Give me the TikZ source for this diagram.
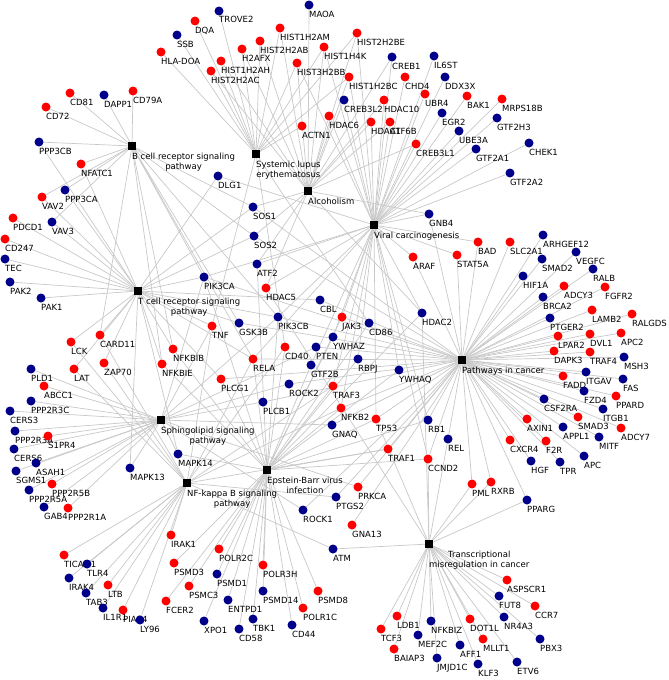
\documentclass[tikz,border=0pt]{standalone}
\usepackage{fontspec}
\setmainfont{DejaVu Sans}
\usepackage{xcolor}
\usepackage{tikz}
\definecolor{upred}{HTML}{FF0000}
\definecolor{downblue}{HTML}{00008B}
\definecolor{edgegray}{HTML}{C8C8C8}
\pgfdeclarelayer{bg}
\pgfdeclarelayer{txt}
\pgfsetlayers{bg,txt,main}

\begin{document}
\begin{tikzpicture}[
  x=1pt, y=-1pt,
  genup/.style={circle, fill=upred, minimum size=9pt, inner sep=0pt},
  gendown/.style={circle, fill=downblue, minimum size=9pt, inner sep=0pt},
  hub/.style={rectangle, fill=black, minimum size=8pt, inner sep=0pt},
  lbl/.style={anchor=base west, inner sep=0pt, font=\fontsize{8.5}{10}\selectfont},
  hublbl/.style={anchor=north west, inner sep=0pt, align=center, font=\fontsize{8.5}{10}\selectfont},
  link/.style={draw=edgegray, line width=0.7pt}
]
\useasboundingbox (0,0) rectangle (669,680);

% Pathway nodes
\node (bcr) [hub] at (132,146) {};
\node (sle) [hub] at (256,154) {};
\node (alc) [hub] at (308,191) {};
\node (vir) [hub] at (374,225) {};
\node (tcr) [hub] at (138,291) {};
\node (pic) [hub] at (462,360) {};
\node (sph) [hub] at (161,420) {};
\node (nfkb) [hub] at (187,483) {};
\node (ebv) [hub] at (267,470) {};
\node (tmc) [hub] at (429,544) {};

\begin{pgfonlayer}{txt}
\node (bcr-t) [hublbl] at (132,152.5) {B cell receptor signaling\\pathway};
\node (sle-t) [hublbl] at (256,160.5) {Systemic lupus\\erythematosus};
\node (alc-t) [hublbl] at (308,197.5) {Alcoholism};
\node (vir-t) [hublbl] at (374,231.5) {Viral carcinogenesis};
\node (tcr-t) [hublbl] at (138,297.5) {T cell receptor signaling\\pathway};
\node (pic-t) [hublbl] at (462,366.5) {Pathways in cancer};
\node (sph-t) [hublbl] at (161,426.5) {Sphingolipid signaling\\pathway};
\node (nfkb-t) [hublbl] at (187,489.5) {NF-kappa B signaling\\pathway};
\node (ebv-t) [hublbl] at (267,476.5) {Epstein-Barr virus\\infection};
\node (tmc-t) [hublbl] at (429,550.5) {Transcriptional\\misregulation in cancer};
\end{pgfonlayer}

% Up-regulated genes
\foreach \n/\x/\y in {DQA/195/21, HLA-DOA/161/52, HIST1H2AM/280/28, HIST2H2AB/260/41,
  H2AFX/242/49, HIST1H2AH/221/61, HIST2H2AC/211/71, HIST1H4K/324/47, HIST2H2BE/357/33,
  HIST3H2BB/297/63, HIST1H2BC/349/77, CHD4/405/77, HDAC10/384/100, UBR4/425/94,
  HDAC6/329/116, ACTN1/302/126, HDAC1/371/122, ATF6B/390/122, CREB3L1/416/144,
  BAK1/467/96, MRPS18B/502/99, CD81/70/93, CD79A/133/91, CD72/46/107, NFATC1/81/164,
  VAV2/42/197, PDCD1/13/218, CD247/5/239, TNF/212/326, CARD11/100/335, LCK/71/342,
  LAT/74/369, ZAP70/104/363, NFKBIB/173/349, NFKBIE/162/364, HDAC5/266/288, JAK3/342/317,
  ARAF/413/257, BAD/478/242, STAT5A/457/255, SLC2A1/510/242, ADCY3/564/286, FGFR2/605/287,
  LAMB2/592/310, RALGDS/632/314, LPAR2/558/336, DVL1/590/334, APC2/621/333, DAPK3/554/351,
  TRAF4/590/352, FADD/563/376, PPARD/616/396, SMAD3/578/417, AXIN1/527/419, ADCY7/621/428,
  CXCR4/510/440, F2R/546/441, PML/472/484, RXRB/491/482, CD40/285/347, RELA/253/359,
  PLCG1/221/379, TRAF3/333/386, NFKB2/341/408, TP53/376/419, TRAF1/388/449, CCND2/428/459,
  PRKCA/358/487, GNA13/352/525, ABCC1/44/386, S1PR4/48/436, PPP2R5B/52/484, PPP2R1A/68/508,
  IRAK1/171/535, TICAM1/64/555, LTB/108/585, PIAS4/123/610, PSMD3/174/563, PSMC3/189/586,
  FCER2/166/601, POLR2C/219/549, POLR3H/263/565, PSMD8/318/591, POLR1C/303/608,
  LDB1/397/616, TCF3/381/629, BAIAP3/394/649, ASPSCR1/507/580, CCR7/535/606,
  DOT1L/470/619, MLLT1/483/639} {
  \node (\n) [genup] at (\x,\y) {};
  \begin{pgfonlayer}{txt}\node (\n-t) [lbl] at (\x,\y+12) {\n};\end{pgfonlayer}
}

% Down-regulated genes
\foreach \n/\x/\y in {TROVE2/219/11, SSB/177/35, MAOA/309/5, CREB1/392/57, IL6ST/434/56,
  DDX3X/445/77, CREB3L2/344/100, EGR2/442/113, GTF2H3/497/118, UBE3A/459/131,
  GTF2A1/476/149, CHEK1/529/143, GTF2A2/510/173, DAPP1/104/95, PPP3CB/39/142,
  PPP3CA/65/190, VAV3/52/222, TEC/5/259, PAK2/10/282, PAK1/41/298, DLG1/218/176,
  PIK3CA/204/277, SOS1/253/207, SOS2/254/236, ATF2/257/264, CBL/320/300, CD86/369/323,
  PIK3CB/278/317, GSK3B/239/323, GNB4/429/214, HDAC2/422/313, YWHAZ/333/337,
  ARHGEF12/543/235, SMAD2/542/259, VEGFC/576/252, HIF1A/523/276, RALB/593/269,
  BRCA2/543/297, PTGER2/550/318, MSH3/624/357, ITGAV/586/372, FAS/623/379, FZD4/584/391,
  CSF2RA/544/399, ITGB1/603/409, APPL1/563/427, MITF/599/437, APC/584/456, HGF/531/461,
  TPR/560/462, REL/448/439, PPARG/527/500, PTEN/316/347, GTF2B/311/365, RBPJ/358/359,
  YWHAQ/399/370, ROCK2/289/384, PLCB1/263/402, RB1/428/420, GNAQ/332/425, PTGS2/336/497,
  ROCK1/303/510, PLD1/31/369, PPP2R3C/31/401, CERS3/10/411, PPP2R3A/15/431, CERS6/14/449,
  ASAH1/36/463, SGMS1/16/471, PPP2R5A/29/490, GAB4/44/507, MAPK14/178/454,
  MAPK13/130/468, ATM/333/549, TLR4/87/564, IRAK4/69/578, TAB3/86/593, IL1R1/103/608,
  LY96/140/620, XPO1/204/621, PSMD1/217/574, PSMD14/263/591, ENTPD1/228/600,
  TBK1/253/619, CD58/239/629, CD44/292/625, FUT8/499/596, NR4A3/504/617, PBX3/540/639,
  AFF1/460/645, KLF3/478/664, ETV6/517/662, NFKBIZ/431/621, MEF2C/418/635,
  JMJD1C/437/658} {
  \node (\n) [gendown] at (\x,\y) {};
  \begin{pgfonlayer}{txt}\node (\n-t) [lbl] at (\x,\y+12) {\n};\end{pgfonlayer}
}

% Connections
\begin{pgfonlayer}{bg}
\foreach \g in {CD81, DAPP1, CD79A, CD72, PPP3CB, NFATC1, PPP3CA, VAV2, VAV3, SOS1, SOS2,
  PIK3CA, PIK3CB, GSK3B, CARD11, NFKBIB, NFKBIE, RELA}
  \draw [link] (bcr) -- (\g);
\foreach \g in {PPP3CB, NFATC1, PPP3CA, VAV2, VAV3, PDCD1, CD247, TEC, PAK2, PAK1, DLG1,
  SOS1, SOS2, PIK3CA, PIK3CB, GSK3B, TNF, CBL, CARD11, LCK, LAT, ZAP70, NFKBIB, NFKBIE,
  RELA, PLCG1, MAPK14, MAPK13}
  \draw [link] (tcr) -- (\g);
\foreach \g in {TROVE2, DQA, SSB, HLA-DOA, HIST1H2AM, HIST2H2AB, H2AFX, HIST1H2AH,
  HIST2H2AC, HIST1H4K, HIST2H2BE, HIST3H2BB, HIST1H2BC, ACTN1, TNF, CD86, CD40}
  \draw [link] (sle) -- (\g);
\foreach \g in {MAOA, HIST1H2AM, HIST2H2AB, H2AFX, HIST1H2AH, HIST2H2AC, HIST1H4K,
  HIST2H2BE, HIST3H2BB, HIST1H2BC, CREB1, CREB3L2, CREB3L1, ATF6B, HDAC10, HDAC6, HDAC1,
  HDAC2, HDAC5, SOS1, SOS2, GNB4, ATF2}
  \draw [link] (alc) -- (\g);
\foreach \g in {HIST1H4K, HIST2H2BE, HIST3H2BB, HIST1H2BC, CREB1, CREB3L2, CREB3L1, ATF6B,
  IL6ST, CHD4, DDX3X, UBR4, EGR2, BAK1, MRPS18B, GTF2H3, UBE3A, GTF2A1, CHEK1, GTF2A2,
  HDAC10, HDAC6, HDAC1, HDAC2, HDAC5, GNB4, BAD, STAT5A, ARAF, DLG1, ATF2, PIK3CA, PIK3CB,
  JAK3, YWHAZ, YWHAQ, GTF2B, RBPJ, RELA, TRAF3, NFKB2, TP53, RB1, CCND2}
  \draw [link] (vir) -- (\g);
\foreach \g in {SOS1, SOS2, PIK3CA, PIK3CB, GSK3B, CBL, JAK3, GNB4, BAD, STAT5A, ARAF,
  SLC2A1, ARHGEF12, SMAD2, VEGFC, HIF1A, RALB, ADCY3, FGFR2, BRCA2, LAMB2, RALGDS, PTGER2,
  LPAR2, DAPK3, DVL1, TRAF4, APC2, MSH3, FADD, ITGAV, FAS, FZD4, PPARD, CSF2RA, ITGB1,
  SMAD3, AXIN1, APPL1, ADCY7, MITF, CXCR4, F2R, APC, HGF, TPR, PML, RXRB, PPARG, RELA,
  PTEN, PLCG1, ROCK2, PLCB1, NFKB2, TP53, RB1, REL, GNAQ, TRAF1, CCND2, PRKCA, PTGS2,
  ROCK1, GNA13}
  \draw [link] (pic) -- (\g);
\foreach \g in {PLD1, ABCC1, PPP2R3C, CERS3, PPP2R3A, S1PR4, CERS6, ASAH1, SGMS1, PPP2R5B,
  PPP2R5A, PPP2R1A, GAB4, MAPK14, MAPK13, TNF, PIK3CA, PIK3CB, PTEN, ROCK2, PLCB1, GNAQ,
  PRKCA, ROCK1}
  \draw [link] (sph) -- (\g);
\foreach \g in {CARD11, LCK, LAT, ZAP70, TNF, CD40, TRAF3, NFKB2, TRAF1, PTGS2, ATM, IRAK1,
  TICAM1, TLR4, IRAK4, LTB, TAB3, IL1R1, PIAS4, LY96, RELA}
  \draw [link] (nfkb) -- (\g);
\foreach \g in {NFKBIB, NFKBIE, RELA, CD40, CD86, ATF2, PIK3CA, PIK3CB, JAK3, YWHAZ, YWHAQ,
  GTF2B, RBPJ, PLCG1, TRAF3, NFKB2, TP53, RB1, TRAF1, CCND2, HDAC2, MAPK14, PSMD3, PSMC3,
  FCER2, XPO1, POLR2C, PSMD1, POLR3H, PSMD14, PSMD8, ENTPD1, POLR1C, TBK1, CD58, CD44}
  \draw [link] (ebv) -- (\g);
\foreach \g in {ATM, ASPSCR1, FUT8, CCR7, NR4A3, DOT1L, MLLT1, PBX3, AFF1, KLF3, ETV6, LDB1,
  TCF3, NFKBIZ, MEF2C, BAIAP3, JMJD1C, PML, RXRB, PPARG, REL, TP53, CCND2, HDAC2, HDAC5}
  \draw [link] (tmc) -- (\g);
\end{pgfonlayer}

\end{tikzpicture}
\end{document}
